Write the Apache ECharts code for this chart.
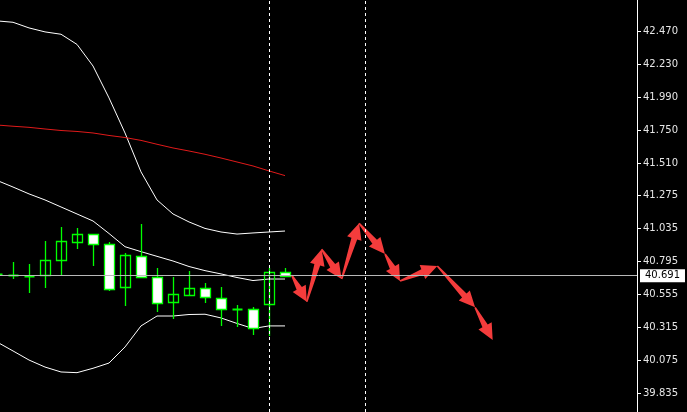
<!DOCTYPE html>
<html>
<head>
<meta charset="utf-8">
<script src="https://cdn.jsdelivr.net/npm/echarts@6/dist/echarts.min.js"></script>
<style>html,body{margin:0;padding:0;background:#000;}#c{width:687px;height:412px;}</style>
</head>
<body>
<div id="c"></div>
<script>
// ---- data ----
const candleOpen  = [40.700, 40.696, 40.683, 40.698, 40.802, 40.938, 40.991, 40.921, 40.606, 40.834, 40.679, 40.497, 40.552, 40.603, 40.530, 40.440, 40.446, 40.482, 40.715];
const candleHigh  = [40.712, 40.792, 40.775, 40.943, 41.042, 41.035, 40.994, 40.933, 40.858, 41.064, 40.749, 40.683, 40.725, 40.640, 40.610, 40.477, 40.461, 40.744, 40.744];
const candleLow   = [40.682, 40.664, 40.567, 40.603, 40.695, 40.882, 40.761, 40.581, 40.470, 40.675, 40.429, 40.373, 40.548, 40.490, 40.325, 40.320, 40.259, 40.252, 40.683];
const candleClose = [40.694, 40.688, 40.690, 40.805, 40.943, 40.994, 40.919, 40.596, 40.841, 40.679, 40.494, 40.555, 40.599, 40.533, 40.446, 40.445, 40.312, 40.717, 40.691];

const bandUpper  = [42.543, 42.533, 42.492, 42.463, 42.446, 42.372, 42.215, 41.983, 41.728, 41.445, 41.241, 41.139, 41.081, 41.034, 41.008, 40.993, 41.001, 41.008, 41.015];
const bandMiddle = [41.383, 41.335, 41.285, 41.241, 41.190, 41.139, 41.088, 40.997, 40.901, 40.865, 40.831, 40.797, 40.757, 40.727, 40.703, 40.677, 40.655, 40.666, 40.666];
const bandLower  = [40.208, 40.143, 40.077, 40.026, 39.990, 39.985, 40.017, 40.055, 40.172, 40.325, 40.397, 40.397, 40.408, 40.410, 40.383, 40.343, 40.306, 40.325, 40.325];
const maRed      = [41.786, 41.777, 41.769, 41.757, 41.746, 41.739, 41.728, 41.710, 41.695, 41.674, 41.646, 41.619, 41.597, 41.573, 41.546, 41.517, 41.488, 41.452, 41.418];

const arrowX = [18.42, 19.36, 20.29, 21.54, 22.63, 24.25, 25.19, 27.52, 29.88, 30.98];
const arrowY = [40.695, 40.501, 40.882, 40.666, 41.071, 40.848, 40.652, 40.761, 40.460, 40.223];

const currentPrice = 40.691;
const vLines = [17, 23];
const tickVals = [42.470, 42.230, 41.990, 41.750, 41.510, 41.275, 41.035, 40.795, 40.555, 40.315, 40.075, 39.835];

// ---- build ----
const candleData = candleOpen.map((o, i) => [i, o, candleClose[i], candleLow[i], candleHigh[i]]);
const toLine = arr => arr.map((v, i) => [i, v]);
const arrowSegs = [];
for (let k = 0; k < arrowX.length - 1; k++) arrowSegs.push([arrowX[k], arrowY[k], arrowX[k + 1], arrowY[k + 1]]);

function renderCandle(params, api) {
  const x = api.value(0), o = api.value(1), c = api.value(2), l = api.value(3), h = api.value(4);
  const pO = api.coord([x, o]), pC = api.coord([x, c]), pL = api.coord([x, l]), pH = api.coord([x, h]);
  const w = Math.round(api.size([1, 0])[0] * 0.62);
  const cx = Math.round(pO[0]) + 0.5;
  const top = Math.round(Math.min(pO[1], pC[1])) + 0.5;
  let bot = Math.round(Math.max(pO[1], pC[1])) + 0.5;
  const bull = c >= o;
  const children = [
    { type: 'line', shape: { x1: cx, y1: Math.round(pH[1]), x2: cx, y2: Math.round(pL[1]) }, style: { stroke: '#00ff00', lineWidth: 1.3 } }
  ];
  if (bot - top < 1.5) {
    children.push({ type: 'line', shape: { x1: cx - w / 2, y1: top, x2: cx + w / 2, y2: top }, style: { stroke: '#00ff00', lineWidth: 2 } });
  } else {
    children.push({ type: 'rect', shape: { x: cx - w / 2, y: top, width: w, height: bot - top },
      style: { fill: bull ? 'rgba(0,0,0,0)' : '#ffffff', stroke: '#00ff00', lineWidth: 1.3 } });
  }
  return { type: 'group', children };
}

function renderArrow(params, api) {
  const a = api.coord([api.value(0), api.value(1)]);
  const b = api.coord([api.value(2), api.value(3)]);
  const dx = b[0] - a[0], dy = b[1] - a[1];
  const L = Math.sqrt(dx * dx + dy * dy);
  const ux = dx / L, uy = dy / L, nx = -uy, ny = ux;
  const hl = Math.min(16, L * 0.5);
  const bx = b[0] - ux * hl, by = b[1] - uy * hl;
  const s = 3, bw = 7.5, t = 0.8;
  const pts = [
    [a[0] + nx * t, a[1] + ny * t],
    [bx + nx * s, by + ny * s],
    [bx + nx * bw, by + ny * bw],
    [b[0], b[1]],
    [bx - nx * bw, by - ny * bw],
    [bx - nx * s, by - ny * s],
    [a[0] - nx * t, a[1] - ny * t]
  ];
  return { type: 'polygon', shape: { points: pts }, style: { fill: '#f43c3c' } };
}

const chart = echarts.init(document.getElementById('c'), null, { renderer: 'canvas' });
chart.setOption({
  backgroundColor: '#000',
  animation: false,
  grid: { left: 0, right: 50, top: 0, bottom: 0 },
  xAxis: { type: 'value', min: 0.1875, max: 40, show: false },
  yAxis: {
    type: 'value', position: 'right', min: 39.699, max: 42.695, scale: true,
    splitLine: { show: false },
    axisLine: { show: true, lineStyle: { color: '#ffffff', width: 1 } },
    axisTick: { show: true, length: 4, customValues: tickVals, lineStyle: { color: '#ffffff' } },
    axisLabel: {
      customValues: tickVals, margin: 6, color: '#e6e6e6', fontFamily: 'DejaVu Sans', fontSize: 10,
      formatter: v => Number(v).toFixed(3)
    }
  },
  series: [
    {
      type: 'line', name: 'upper', data: toLine(bandUpper), symbol: 'none', silent: true,
      lineStyle: { color: '#ffffff', width: 1 }, z: 2,
      markLine: {
        symbol: ['none', 'none'], silent: true, animation: false,
        label: { show: false },
        lineStyle: { color: '#ffffff', type: [3, 3], width: 1 },
        data: vLines.map(v => ({ xAxis: v }))
      }
    },
    {
      type: 'line', name: 'middle', data: toLine(bandMiddle), symbol: 'none', silent: true,
      lineStyle: { color: '#ffffff', width: 1 }, z: 2,
      markLine: {
        symbol: ['none', 'none'], silent: true, animation: false,
        lineStyle: { color: '#b8b8b8', type: 'solid', width: 1 },
        label: {
          show: true, position: 'end', distance: 3,
          formatter: () => currentPrice.toFixed(3),
          backgroundColor: '#ffffff', color: '#000000', padding: [2, 5, 1, 5],
          fontFamily: 'DejaVu Sans', fontSize: 10
        },
        data: [{ yAxis: currentPrice }]
      }
    },
    { type: 'line', name: 'lower', data: toLine(bandLower), symbol: 'none', silent: true, lineStyle: { color: '#ffffff', width: 1 }, z: 2 },
    { type: 'line', name: 'ma', data: toLine(maRed), symbol: 'none', silent: true, lineStyle: { color: '#e01a1a', width: 1 }, z: 2 },
    { type: 'custom', name: 'candles', data: candleData, renderItem: renderCandle, clip: true, z: 3,
      encode: { x: 0, y: [1, 2, 3, 4] } },
    { type: 'custom', name: 'arrows', data: arrowSegs, renderItem: renderArrow, clip: true, z: 4,
      encode: { x: [0, 2], y: [1, 3] } }
  ]
});
</script>
</body>
</html>
